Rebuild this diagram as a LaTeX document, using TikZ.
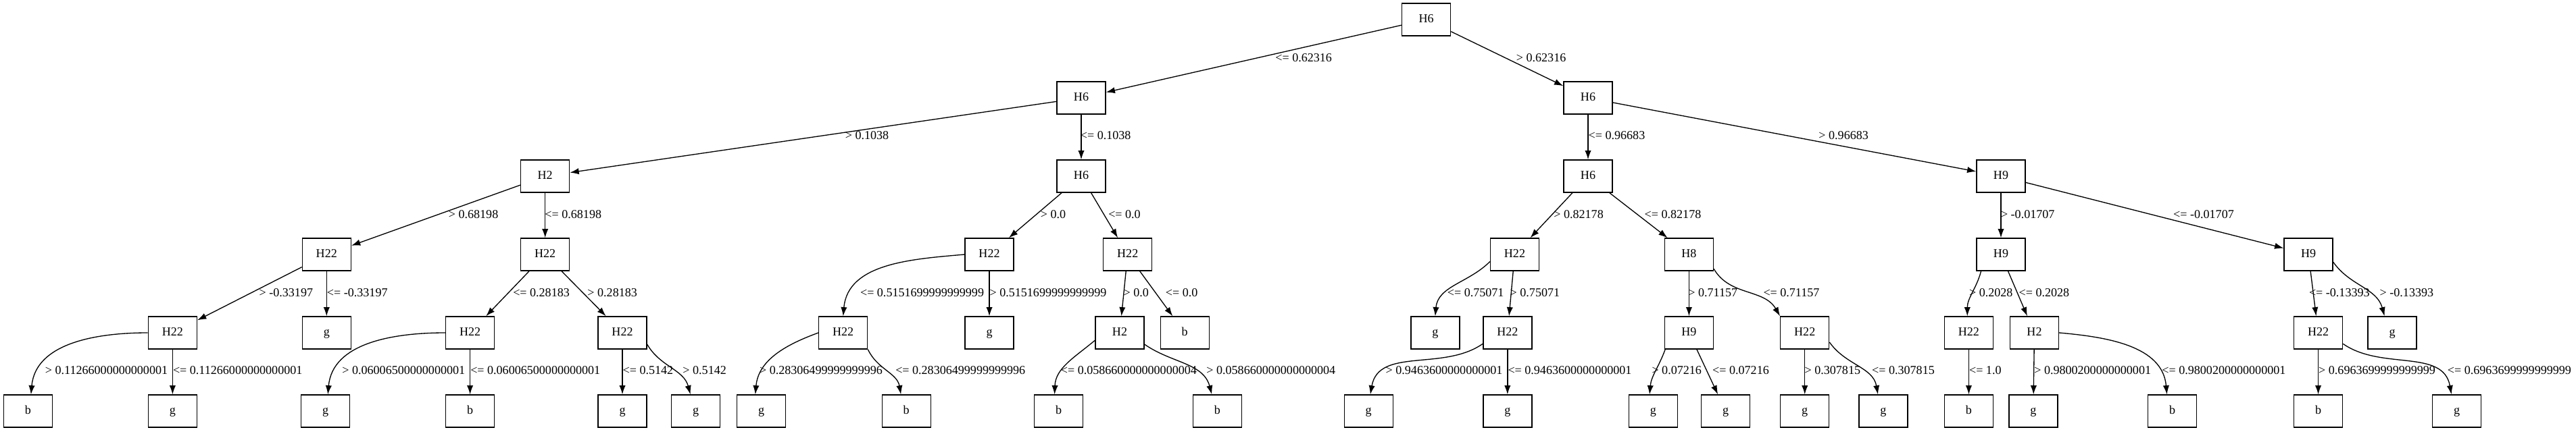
\documentclass[tikz,border=0pt]{standalone}
\usepackage{fontspec}
\setmainfont{Liberation Serif}
\usetikzlibrary{arrows.meta}

\tikzset{
	tnode/.style={draw, rectangle, line width=1pt, minimum width=1.905cm, minimum height=1.27cm, inner sep=0pt, text height=0.85em, text depth=0.21em, font=\fontsize{13.6}{16}\selectfont},
	lab/.style={anchor=west, inner sep=0pt, text height=0.85em, text depth=0.21em, font=\fontsize{13.6}{16}\selectfont},
	link/.style={line width=1pt, -{Latex[length=10pt, width=7pt]}},
}

\begin{document}
\begin{tikzpicture}
		\useasboundingbox (0, 0) rectangle (100.858, 16.907);
		% Nodes, level by level:
		\node[tnode] (r) at (55.842, 16.140) {H6};
		\node[tnode] (n1a) at (42.333, 13.070) {H6};
		\node[tnode] (n1b) at (62.176, 13.070) {H6};
		\node[tnode] (n2a) at (21.344, 10.001) {H2};
		\node[tnode] (n2b) at (42.333, 10.001) {H6};
		\node[tnode] (n2c) at (62.176, 10.001) {H6};
		\node[tnode] (n2d) at (78.342, 10.001) {H9};
		\node[tnode] (n3a) at (12.787, 6.932) {H22};
		\node[tnode] (n3b) at (21.344, 6.932) {H22};
		\node[tnode] (n3c) at (38.735, 6.932) {H22};
		\node[tnode] (n3d) at (44.151, 6.932) {H22};
		\node[tnode] (n3e) at (59.305, 6.932) {H22};
		\node[tnode] (n3f) at (66.129, 6.932) {H8};
		\node[tnode] (n3g) at (78.342, 6.932) {H9};
		\node[tnode] (n3h) at (90.381, 6.932) {H9};
		\node[tnode] (n4a) at (6.757, 3.863) {H22};
		\node[tnode] (n4b) at (12.787, 3.863) {g};
		\node[tnode] (n4c) at (18.404, 3.863) {H22};
		\node[tnode] (n4d) at (24.368, 3.863) {H22};
		\node[tnode] (n4e) at (33.012, 3.863) {H22};
		\node[tnode] (n4f) at (38.735, 3.863) {g};
		\node[tnode] (n4g) at (43.841, 3.863) {H2};
		\node[tnode] (n4h) at (46.386, 3.863) {b};
		\node[tnode] (n4i) at (56.192, 3.863) {g};
		\node[tnode] (n4j) at (59.023, 3.863) {H22};
		\node[tnode] (n4k) at (66.129, 3.863) {H9};
		\node[tnode] (n4l) at (70.662, 3.863) {H22};
		\node[tnode] (n4m) at (77.083, 3.863) {H22};
		\node[tnode] (n4n) at (79.652, 3.863) {H2};
		\node[tnode] (n4o) at (90.765, 3.863) {H22};
		\node[tnode] (n4p) at (93.663, 3.863) {g};
		\node[tnode] (n5a) at (1.098, 0.794) {b};
		\node[tnode] (n5b) at (6.757, 0.794) {g};
		\node[tnode] (n5c) at (12.745, 0.794) {g};
		\node[tnode] (n5d) at (18.404, 0.794) {b};
		\node[tnode] (n5e) at (24.368, 0.794) {g};
		\node[tnode] (n5f) at (27.244, 0.794) {g};
		\node[tnode] (n5g) at (29.810, 0.794) {g};
		\node[tnode] (n5h) at (35.486, 0.794) {b};
		\node[tnode] (n5i) at (41.452, 0.794) {b};
		\node[tnode] (n5j) at (47.659, 0.794) {b};
		\node[tnode] (n5k) at (53.583, 0.794) {g};
		\node[tnode] (n5l) at (59.023, 0.794) {g};
		\node[tnode] (n5m) at (64.724, 0.794) {g};
		\node[tnode] (n5n) at (67.564, 0.794) {g};
		\node[tnode] (n5o) at (70.662, 0.794) {g};
		\node[tnode] (n5p) at (73.738, 0.794) {g};
		\node[tnode] (n5q) at (77.083, 0.794) {b};
		\node[tnode] (n5r) at (79.607, 0.794) {g};
		\node[tnode] (n5s) at (85.052, 0.794) {b};
		\node[tnode] (n5t) at (90.765, 0.794) {b};
		\node[tnode] (n5u) at (96.192, 0.794) {g};
		% Edges and their labels:
		\draw[link] (r) -- (n1a) node[lab] (c1) at (49.918, 14.605) {<= 0.62316};
		\draw[link] (r) -- (n1b) node[lab] (c2) at (59.351, 14.605) {> 0.62316};
		\draw[link] (n1a) -- (n2a) node[lab] (c3) at (33.078, 11.562) {> 0.1038};
		\draw[link] (n1a) -- (n2b) node[lab] (c4) at (42.286, 11.562) {<= 0.1038};
		\draw[link] (n1b) -- (n2c) node[lab] (c5) at (62.176, 11.562) {<= 0.96683};
		\draw[link] (n1b) -- (n2d) node[lab] (c6) at (71.193, 11.562) {> 0.96683};
		\draw[link] (n2a) -- (n3a) node[lab] (c7) at (17.547, 8.467) {> 0.68198};
		\draw[link] (n2a) -- (n3b) node[lab] (c8) at (21.320, 8.467) {<= 0.68198};
		\draw[link] (n2b) -- (n3c) node[lab] (c9) at (40.727, 8.467) {> 0.0};
		\draw[link] (n2b) -- (n3d) node[lab] (c10) at (43.381, 8.467) {<= 0.0};
		\draw[link] (n2c) -- (n3e) node[lab] (c11) at (60.819, 8.467) {> 0.82178};
		\draw[link] (n2c) -- (n3f) node[lab] (c12) at (64.373, 8.467) {<= 0.82178};
		\draw[link] (n2d) -- (n3g) node[lab] (c13) at (78.324, 8.467) {> -0.01707};
		\draw[link] (n2d) -- (n3h) node[lab] (c14) at (85.076, 8.467) {<= -0.01707};
		\draw[link] (n3a) -- (n4a) node[lab] (c15) at (10.133, 5.397) {> -0.33197};
		\draw[link] (n3a) -- (n4b) node[lab] (c16) at (12.787, 5.397) {<= -0.33197};
		\draw[link] (n3b) -- (n4c) node[lab] (c17) at (20.071, 5.397) {<= 0.28183};
		\draw[link] (n3b) -- (n4d) node[lab] (c18) at (22.987, 5.397) {> 0.28183};
		\draw[link] (n3c.west) to[out=185, in=85] (n4e.north) node[lab] (c19) at (33.665, 5.397) {<= 0.5151699999999999};
		\draw[link] (n3c) -- (n4f) node[lab] (c20) at (38.732, 5.397) {> 0.5151699999999999};
		\draw[link] (n3d) -- (n4g) node[lab] (c21) at (43.973, 5.397) {> 0.0};
		\draw[link] (n3d) -- (n4h) node[lab] (c22) at (45.619, 5.397) {<= 0.0};
		\draw[link] (n3e.196) to[out=-135, in=85] (n4i.north) node[lab] (c23) at (56.652, 5.397) {<= 0.75071};
		\draw[link] (n3e) -- (n4j) node[lab] (c24) at (59.108, 5.397) {> 0.75071};
		\draw[link] (n3f) -- (n4k) node[lab] (c25) at (66.084, 5.397) {> 0.71157};
		\draw[link] (n3f.-30) to[out=-60, in=120] (n4l.north west) node[lab] (c26) at (69.024, 5.397) {<= 0.71157};
		\draw[link] (n3g.-140) to[out=-105, in=90] (n4m.95) node[lab] (c27) at (77.083, 5.397) {> 0.2028};
		\draw[link] (n3g) -- (n4n) node[lab] (c28) at (79.030, 5.397) {<= 0.2028};
		\draw[link] (n3h) -- (n4o) node[lab] (c29) at (90.389, 5.397) {<= -0.13393};
		\draw[link] (n3h.-17) to[out=-55, in=105] (n4p.115) node[lab] (c30) at (93.159, 5.397) {> -0.13393};
		\draw[link] (n4a.west) to[out=180, in=85] (n5a.80) node[lab] (c31) at (1.754, 2.355) {> 0.11266000000000001};
		\draw[link] (n4a) -- (n5b) node[lab] (c32) at (6.757, 2.355) {<= 0.11266000000000001};
		\draw[link] (n4c.west) to[out=180, in=85] (n5c.82) node[lab] (c33) at (13.380, 2.355) {> 0.06006500000000001};
		\draw[link] (n4c) -- (n5d) node[lab] (c34) at (18.404, 2.355) {<= 0.06006500000000001};
		\draw[link] (n4d) -- (n5e) node[lab] (c35) at (24.368, 2.355) {<= 0.5142};
		\draw[link] (n4d.-25) to[out=-60, in=105] (n5f.108) node[lab] (c36) at (26.717, 2.355) {> 0.5142};
		\draw[link] (n4e.west) to[out=200, in=85] (n5g.110) node[lab] (c37) at (29.723, 2.355) {> 0.28306499999999996};
		\draw[link] (n4e.south east) to[out=-65, in=100] (n5h.108) node[lab] (c38) at (35.046, 2.355) {<= 0.28306499999999996};
		\draw[link] (n4g.197) to[out=-140, in=88] (n5i.104) node[lab] (c39) at (41.518, 2.355) {<= 0.058660000000000004};
		\draw[link] (n4g.-25) to[out=-35, in=105] (n5j.108) node[lab] (c40) at (47.220, 2.355) {> 0.058660000000000004};
		\draw[link] (n4j.204) to[out=-145, in=80] (n5k.84) node[lab] (c41) at (54.239, 2.355) {> 0.9463600000000001};
		\draw[link] (n4j) -- (n5l) node[lab] (c42) at (59.023, 2.355) {<= 0.9463600000000001};
		\draw[link] (n4k.215) to[out=-110, in=85] (n5m.102) node[lab] (c43) at (64.659, 2.355) {> 0.07216};
		\draw[link] (n4k) -- (n5n) node[lab] (c44) at (67.032, 2.355) {<= 0.07216};
		\draw[link] (n4l) -- (n5o) node[lab] (c45) at (70.641, 2.355) {> 0.307815};
		\draw[link] (n4l.-21) to[out=-55, in=100] (n5p.108) node[lab] (c46) at (73.275, 2.355) {<= 0.307815};
		\draw[link] (n4m) -- (n5q) node[lab] (c47) at (77.083, 2.355) {<= 1.0};
		\draw[link] (n4n) -- (n5r) node[lab] (c48) at (79.628, 2.355) {> 0.9800200000000001};
		\draw[link] (n4n.east) to[out=-5, in=95] (n5s.108) node[lab] (c49) at (84.632, 2.355) {<= 0.9800200000000001};
		\draw[link] (n4o) -- (n5t) node[lab] (c50) at (90.765, 2.355) {> 0.6963699999999999};
		\draw[link] (n4o.-24) to[out=-35, in=100] (n5u.108) node[lab] (c51) at (95.812, 2.355) {<= 0.6963699999999999};
	\end{tikzpicture}
\end{document}
